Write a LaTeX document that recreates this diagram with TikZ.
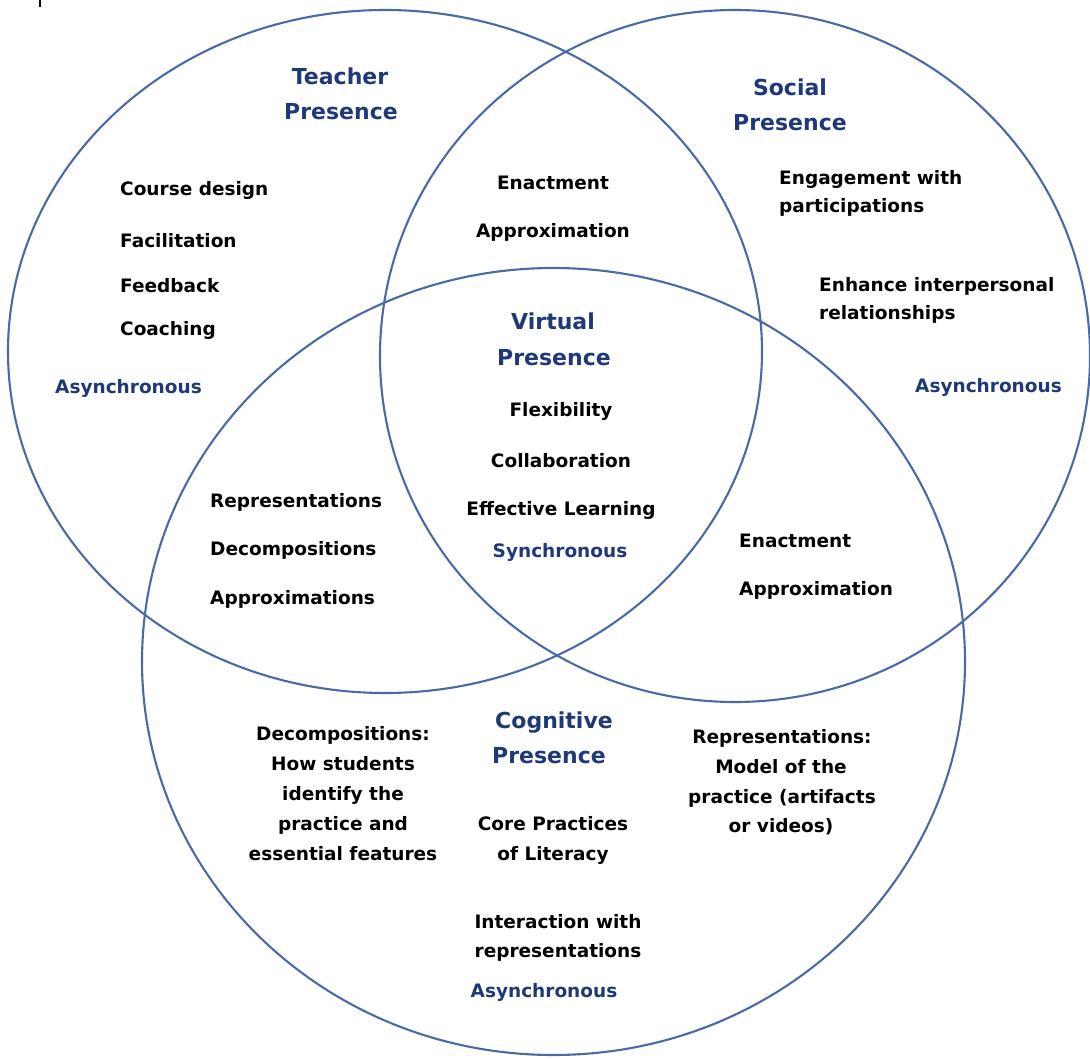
\documentclass[tikz,border=0pt]{standalone}
\usepackage{fontspec}
\setmainfont{DejaVu Sans}
\definecolor{ringc}{RGB}{74,105,165}
\definecolor{navy}{RGB}{31,56,120}
\begin{document}
\begin{tikzpicture}[x=1pt,y=-1pt,
  body/.style={font=\fontsize{18.5}{22}\selectfont\bfseries, inner sep=0pt, text=black},
  head/.style={font=\fontsize{22}{26}\selectfont\bfseries, inner sep=0pt, text=navy},
  blu/.style={body, text=navy},
  ring/.style={draw=ringc, line width=2.1pt}]
\useasboundingbox (0,0) rectangle (1090,1059);
\fill[white] (0,0) rectangle (1090,1059);
% circles
\draw[ring] (385,351.5) ellipse [x radius=377, y radius=341.5];
\draw[ring] (735,356) ellipse [x radius=355, y radius=346];
\draw[ring] (553.5,661.5) ellipse [x radius=411.5, y radius=393.5];
\draw[black, line width=1.2pt] (40,0) -- (40,7);
% Teacher presence
\node[head, anchor=base] (th1) at (340,85) {Teacher};
\node[head, anchor=base] (th2) at (341,120) {Presence};
\node[body, anchor=base west] (t1) at (120,196) {Course design};
\node[body, anchor=base west] (t2) at (120,248) {Facilitation};
\node[body, anchor=base west] (t3) at (120,293) {Feedback};
\node[body, anchor=base west] (t4) at (120,336) {Coaching};
\node[blu, anchor=base west] (ta) at (55,393) {Asynchronous};
% Teacher-Social overlap
\node[body, anchor=base] (ts1) at (553,190) {Enactment};
\node[body, anchor=base] (ts2) at (553,238) {Approximation};
% Social presence
\node[head, anchor=base] (sh1) at (790,96) {Social};
\node[head, anchor=base] (sh2) at (790,131) {Presence};
\node[body, anchor=base west] (s1) at (779,185) {Engagement with};
\node[body, anchor=base west] (s2) at (779,213) {participations};
\node[body, anchor=base west] (s3) at (819,292) {Enhance interpersonal};
\node[body, anchor=base west] (s4) at (819,320) {relationships};
\node[blu, anchor=base west] (sa) at (915,392) {Asynchronous};
% Virtual presence (centre)
\node[head, anchor=base] (vh1) at (553,330) {Virtual};
\node[head, anchor=base] (vh2) at (554,366) {Presence};
\node[body, anchor=base] (v1) at (561,416) {Flexibility};
\node[body, anchor=base] (v2) at (561,467) {Collaboration};
\node[body, anchor=base] (v3) at (561,515) {Effective Learning};
\node[blu, anchor=base] (vs) at (560,557) {Synchronous};
% Teacher-Cognitive overlap
\node[body, anchor=base west] (tc1) at (210,507) {Representations};
\node[body, anchor=base west] (tc2) at (210,555) {Decompositions};
\node[body, anchor=base west] (tc3) at (210,604) {Approximations};
% Social-Cognitive overlap
\node[body, anchor=base west] (sc1) at (739,547) {Enactment};
\node[body, anchor=base west] (sc2) at (739,595) {Approximation};
% Cognitive presence
\node[head, anchor=base] (ch1) at (554,728) {Cognitive};
\node[head, anchor=base] (ch2) at (549,763) {Presence};
\node[body, anchor=base] (cl1) at (343,740) {Decompositions:};
\node[body, anchor=base] (cl2) at (343,770) {How students};
\node[body, anchor=base] (cl3) at (343,800) {identify the};
\node[body, anchor=base] (cl4) at (343,830) {practice and};
\node[body, anchor=base] (cl5) at (343,860) {essential features};
\node[body, anchor=base] (cc1) at (553,830) {Core Practices};
\node[body, anchor=base] (cc2) at (553,860) {of Literacy};
\node[body, anchor=base] (cc3) at (558,928) {Interaction with};
\node[body, anchor=base] (cc4) at (558,957) {representations};
\node[blu, anchor=base] (ca) at (544,997) {Asynchronous};
\node[body, anchor=base] (cr1) at (782,743) {Representations:};
\node[body, anchor=base] (cr2) at (781,773) {Model of the};
\node[body, anchor=base] (cr3) at (782,803) {practice (artifacts};
\node[body, anchor=base] (cr4) at (781,832) {or videos)};
\end{tikzpicture}
\end{document}
